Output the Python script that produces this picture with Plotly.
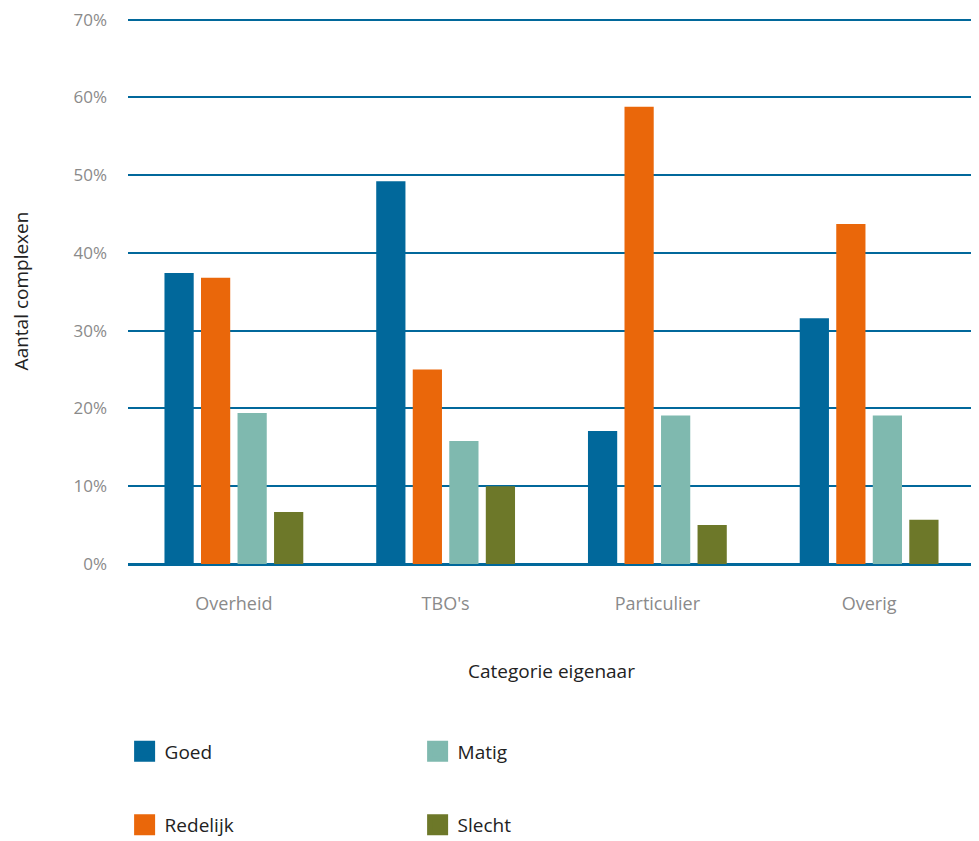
import plotly.graph_objects as go

categories = ["Overheid", "TBO's", "Particulier", "Overig"]
series_names = ["Goed", "Redelijk", "Matig", "Slecht"]
goed = [37.4, 49.2, 17.1, 31.6]
redelijk = [36.8, 25.0, 58.8, 43.7]
matig = [19.4, 15.8, 19.1, 19.1]
slecht = [6.7, 10.0, 5.0, 5.7]
values = [goed, redelijk, matig, slecht]
colors = ["#01689B", "#EA670A", "#7FB9AF", "#6D7829"]
y_tickvals = [0, 10, 20, 30, 40, 50, 60, 70]
y_ticktext = ["0%", "10%", "20%", "30%", "40%", "50%", "60%", "70%"]
legend_of = {"Goed": "legend", "Matig": "legend", "Redelijk": "legend2", "Slecht": "legend2"}

fig = go.Figure()
for name, vals, col in zip(series_names, values, colors):
    fig.add_trace(go.Bar(x=categories, y=vals, name=name, marker_color=col,
                         marker_line_width=0, showlegend=False))
# legend entries with larger square swatches
for name, col in zip(series_names, colors):
    fig.add_trace(go.Scatter(x=[None], y=[None], mode="markers", name=name,
                             marker=dict(symbol="square", size=16, color=col,
                                         line=dict(width=5, color=col)),
                             legend=legend_of[name], hoverinfo="skip"))

font = "Open Sans, Noto Sans, sans-serif"
leg_common = dict(orientation="h", entrywidth=248, entrywidthmode="pixels",
                  itemsizing="trace",
                  font=dict(family=font, size=19, color="#222"),
                  xanchor="left", yanchor="middle", bgcolor="rgba(0,0,0,0)")
fig.update_layout(
    width=971, height=833,
    margin=dict(l=120, r=4, t=10, b=277, autoexpand=False),
    paper_bgcolor="white", plot_bgcolor="white",
    barmode="group", bargap=0.31, bargroupgap=0.2,
    font=dict(family=font),
    legend=dict(x=-0.004, y=-0.343, **leg_common),
    legend2=dict(x=-0.004, y=-0.478, **leg_common),
    xaxis=dict(showgrid=False, showline=False, ticks="", zeroline=False,
               tickfont=dict(size=18, color="#8a8a8a"), ticklabelstandoff=27,
               title=dict(text="Categorie eigenaar", standoff=50,
                          font=dict(size=19, color="#222"))),
    yaxis=dict(range=[0, 70.2], tickvals=y_tickvals, ticktext=y_ticktext,
               showgrid=True, gridcolor="#01689B", gridwidth=2,
               zeroline=True, zerolinecolor="#01689B", zerolinewidth=2.5,
               showline=False, ticks="", ticklabelstandoff=20,
               ticklabeloverflow="allow",
               tickfont=dict(size=17, color="#8a8a8a"),
               title=dict(text="Aantal complexen", standoff=42,
                          font=dict(size=19, color="#222"))),
)
fig.write_html("out.html")
